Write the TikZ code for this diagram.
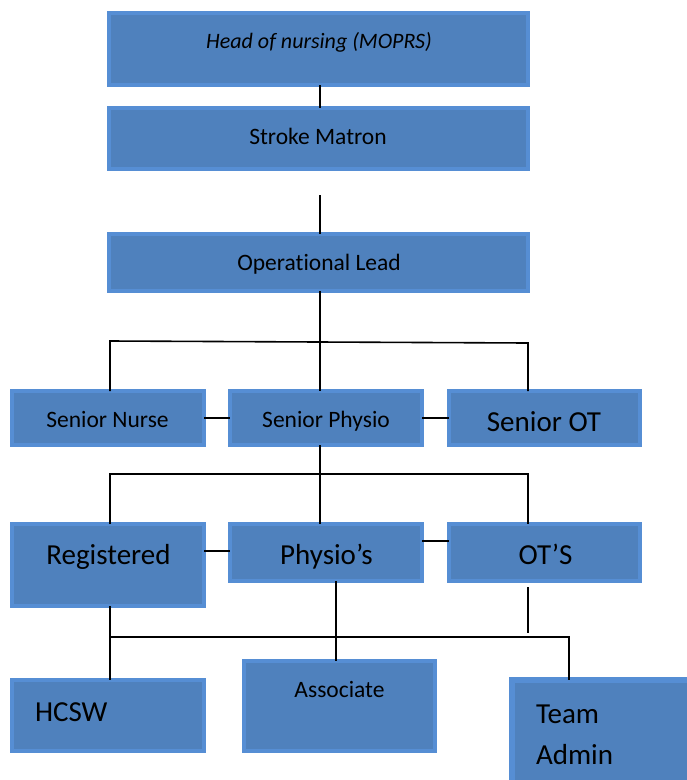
\documentclass[tikz,border=0pt]{standalone}
\usepackage{fontspec}
\setmainfont[Ligatures=NoCommon]{Carlito}
\definecolor{boxfill}{RGB}{79,129,189}
\definecolor{boxedge}{RGB}{86,142,212}
\begin{document}
\begin{tikzpicture}[x=1pt,y=-1pt,
  box/.style={rectangle, fill=boxfill, draw=boxedge, line width=4pt, inner sep=0pt, outer sep=0pt},
  conn/.style={line width=1.6pt, black},
  txt/.style={inner sep=0pt, outer sep=0pt, text=black},
  small/.style={txt, font=\fontsize{23.5}{28}\selectfont},
  big/.style={txt, font=\fontsize{29}{34}\selectfont}]
\useasboundingbox (0,0) rectangle (687,780);
% boxes
\node[box, minimum width=419, minimum height=72] (hon) at (318.5,49) {};
\node[box, minimum width=419, minimum height=61] (sm) at (318.5,138.5) {};
\node[box, minimum width=419, minimum height=57] (ol) at (318.5,262.5) {};
\node[box, minimum width=192, minimum height=54] (sn) at (108,418) {};
\node[box, minimum width=192, minimum height=54] (sp) at (326,418) {};
\node[box, minimum width=191, minimum height=54] (sot) at (544.5,418) {};
\node[box, minimum width=192, minimum height=82] (reg) at (108,565) {};
\node[box, minimum width=192, minimum height=57] (phy) at (326,552.5) {};
\node[box, minimum width=191, minimum height=57] (ots) at (544.5,552.5) {};
\node[box, minimum width=192, minimum height=71] (hcsw) at (108,715.5) {};
\node[box, minimum width=191, minimum height=90] (asc) at (339.5,706) {};
\node[box, line width=6pt, minimum width=180, minimum height=107] (ta) at (602,733.5) {};
% texts
\node[txt, anchor=base, font=\itshape\fontsize{22}{26}\selectfont] (honT) at (319,48) {Head of nursing (MOPRS)};
\node[small, anchor=base] (smT) at (318,144) {Stroke Matron};
\node[small, anchor=base] (olT) at (319,270) {Operational Lead};
\node[small, anchor=base] (snT) at (107.5,427) {Senior Nurse};
\node[small, anchor=base] (spT) at (326,427) {Senior Physio};
\node[big, anchor=base] (sotT) at (544,431) {Senior OT};
\node[big, anchor=base] (regT) at (108.5,564) {Registered};
\node[big, anchor=base] (phyT) at (326.5,564) {Physio’s};
\node[big, anchor=base] (otsT) at (545.5,564) {OT’S};
\node[big, anchor=base west] (hcswT) at (35,721) {HCSW};
\node[small, anchor=base] (ascT) at (339.5,697) {Associate};
\node[big, anchor=base west] (taT1) at (536,723) {Team};
\node[big, anchor=base west] (taT2) at (536,764) {Admin};
% junction coordinates
\coordinate (mid) at (320,0);
\coordinate (c1) at (320,195);
\coordinate (ja) at (110,341);
\coordinate (jb) at (528,343);
\coordinate (jl) at (110,474);
\coordinate (jr) at (528,474);
\coordinate (y551) at (0,551);
\coordinate (y541) at (0,541);
\coordinate (je) at (336,0);
\coordinate (jf) at (528,587);
\coordinate (jg) at (528,633);
\coordinate (jh) at (110,637);
\coordinate (ji) at (569,637);
% connectors
\draw[conn] (hon.south -| mid) -- (sm.north -| mid);
\draw[conn] (c1) -- (ol.north -| c1);
\draw[conn] (ol.south -| mid) -- (sp.north -| mid);
\draw[conn] (ja |- sn.north) -- (ja) -- (jb) -- (jb |- sot.north);
\draw[conn] (sn.east) -- (sp.west);
\draw[conn] (sp.east) -- (sot.west);
\draw[conn] (sp.south -| mid) -- (phy.north -| mid);
\draw[conn] (jl |- reg.north) -- (jl) -- (jr) -- (jr |- ots.north);
\draw[conn] (reg.east |- y551) -- (phy.west |- y551);
\draw[conn] (phy.east |- y541) -- (ots.west |- y541);
\draw[conn] (phy.south -| je) -- (asc.north -| je);
\draw[conn] (jf) -- (jg);
\draw[conn] (jh |- reg.south) -- (jh |- hcsw.north);
\draw[conn] (jh) -- (ji) -- (ji |- ta.north);
\end{tikzpicture}
\end{document}
